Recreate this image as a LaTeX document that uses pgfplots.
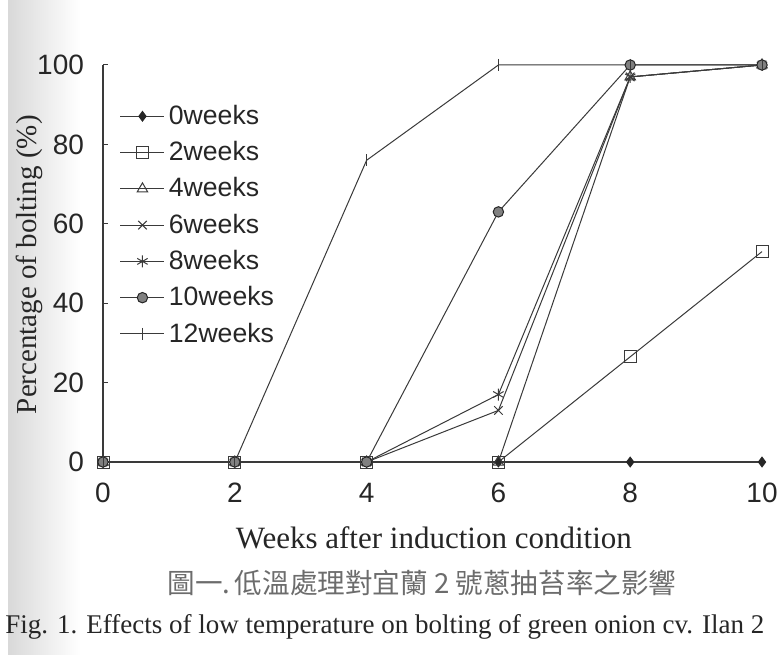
\documentclass[border=0pt]{standalone}
\usepackage{pgfplots}
\pgfplotsset{compat=1.18}
\usepackage{fontspec}
\setmainfont{Liberation Serif}
\newfontfamily\arial{Liberation Sans}
\newfontfamily\cjk{Noto Sans CJK TC}
\definecolor{ink}{HTML}{262626}
\definecolor{lin}{HTML}{3a3a3a}
\begin{document}
\begin{tikzpicture}
\useasboundingbox (0,0) rectangle (389.5pt,327pt);
\fill[white] (0,0) rectangle (389.5pt,327pt);
\shade[left color=gray!30, right color=white] (4pt,0) rectangle (40pt,327pt);
\begin{axis}[
  at={(51.5pt,96pt)}, anchor=south west,
  scale only axis, width=329.5pt, height=198.5pt,
  xmin=0, xmax=10, ymin=0, ymax=100,
  axis x line=bottom, axis y line=left,
  axis line style={-, lin, line width=0.6pt},
  xtick={0,2,4,6,8,10}, ytick={0,20,40,60,80,100},
  xtick style={draw=none},
  ytick style={lin, line width=0.5pt},
  tick align=inside, major tick length=2.5pt,
  clip=false,
  /pgf/number format/assume math mode=true,
  ticklabel style={font=\arial\fontsize{14}{14}\selectfont, text=ink},
  xticklabel style={yshift=-7pt},
  yticklabel style={xshift=-6pt},
  xlabel={Weeks after induction condition},
  xlabel style={at={(axis description cs:0.502,-0.191)}, anchor=center, font=\fontsize{15.5}{15.5}\selectfont, text=ink},
  ylabel={Percentage of bolting (\%)},
  ylabel style={at={(axis description cs:-0.112,0.497)}, anchor=center, rotate=0, font=\fontsize{14.5}{14.5}\selectfont, text=ink},
  every axis plot/.append style={lin, line width=0.5pt},
  legend style={draw=none, fill=none, at={(axis description cs:0.016,0.92)}, anchor=north west,
     font=\arial\fontsize{13.3}{13.3}\selectfont, text=ink, row sep=3pt},
  legend cell align=left,
  legend image code/.code={\draw[mark repeat=2,mark phase=2,#1] plot coordinates {(0pt,0pt) (11pt,0pt) (22pt,0pt)};},
]
\addplot[mark=diamond*, mark size=2.4pt, mark options={fill=ink, draw=ink}] coordinates {(0,0) (2,0) (4,0) (6,0) (8,0) (10,0)};
\addlegendentry{0weeks}
\addplot[mark=square, mark size=3pt, mark options={fill=white}] coordinates {(0,0) (2,0) (4,0) (6,0) (8,26.5) (10,53)};
\addlegendentry{2weeks}
\addplot[mark=triangle, mark size=3pt] coordinates {(0,0) (2,0) (4,0) (6,0) (8,97) (10,100)};
\addlegendentry{4weeks}
\addplot[mark=x, mark size=3pt] coordinates {(0,0) (2,0) (4,0) (6,13) (8,97) (10,100)};
\addlegendentry{6weeks}
\addplot[mark=asterisk, mark size=3pt] coordinates {(0,0) (2,0) (4,0) (6,17) (8,97) (10,100)};
\addlegendentry{8weeks}
\addplot[mark=*, mark size=2.6pt, mark options={fill=gray, draw=ink}] coordinates {(0,0) (2,0) (4,0) (6,63) (8,100) (10,100)};
\addlegendentry{10weeks}
\addplot[mark=|, mark size=3pt] coordinates {(0,0) (2,0) (4,76) (6,100) (8,100) (10,100)};
\addlegendentry{12weeks}
\end{axis}
\node[font=\cjk\fontsize{13.8}{13.8}\selectfont, text=gray!85!black, anchor=center] at (211pt,35.5pt) {圖一.\,低溫處理對宜蘭 2 號蔥抽苔率之影響};
\node[font=\fontsize{13.5}{13.5}\selectfont, text=ink, anchor=west, inner sep=0pt] at (2.5pt,13.5pt) {Fig. 1. Effects of low temperature on bolting of green onion cv. Ilan 2};
\end{tikzpicture}
\end{document}
